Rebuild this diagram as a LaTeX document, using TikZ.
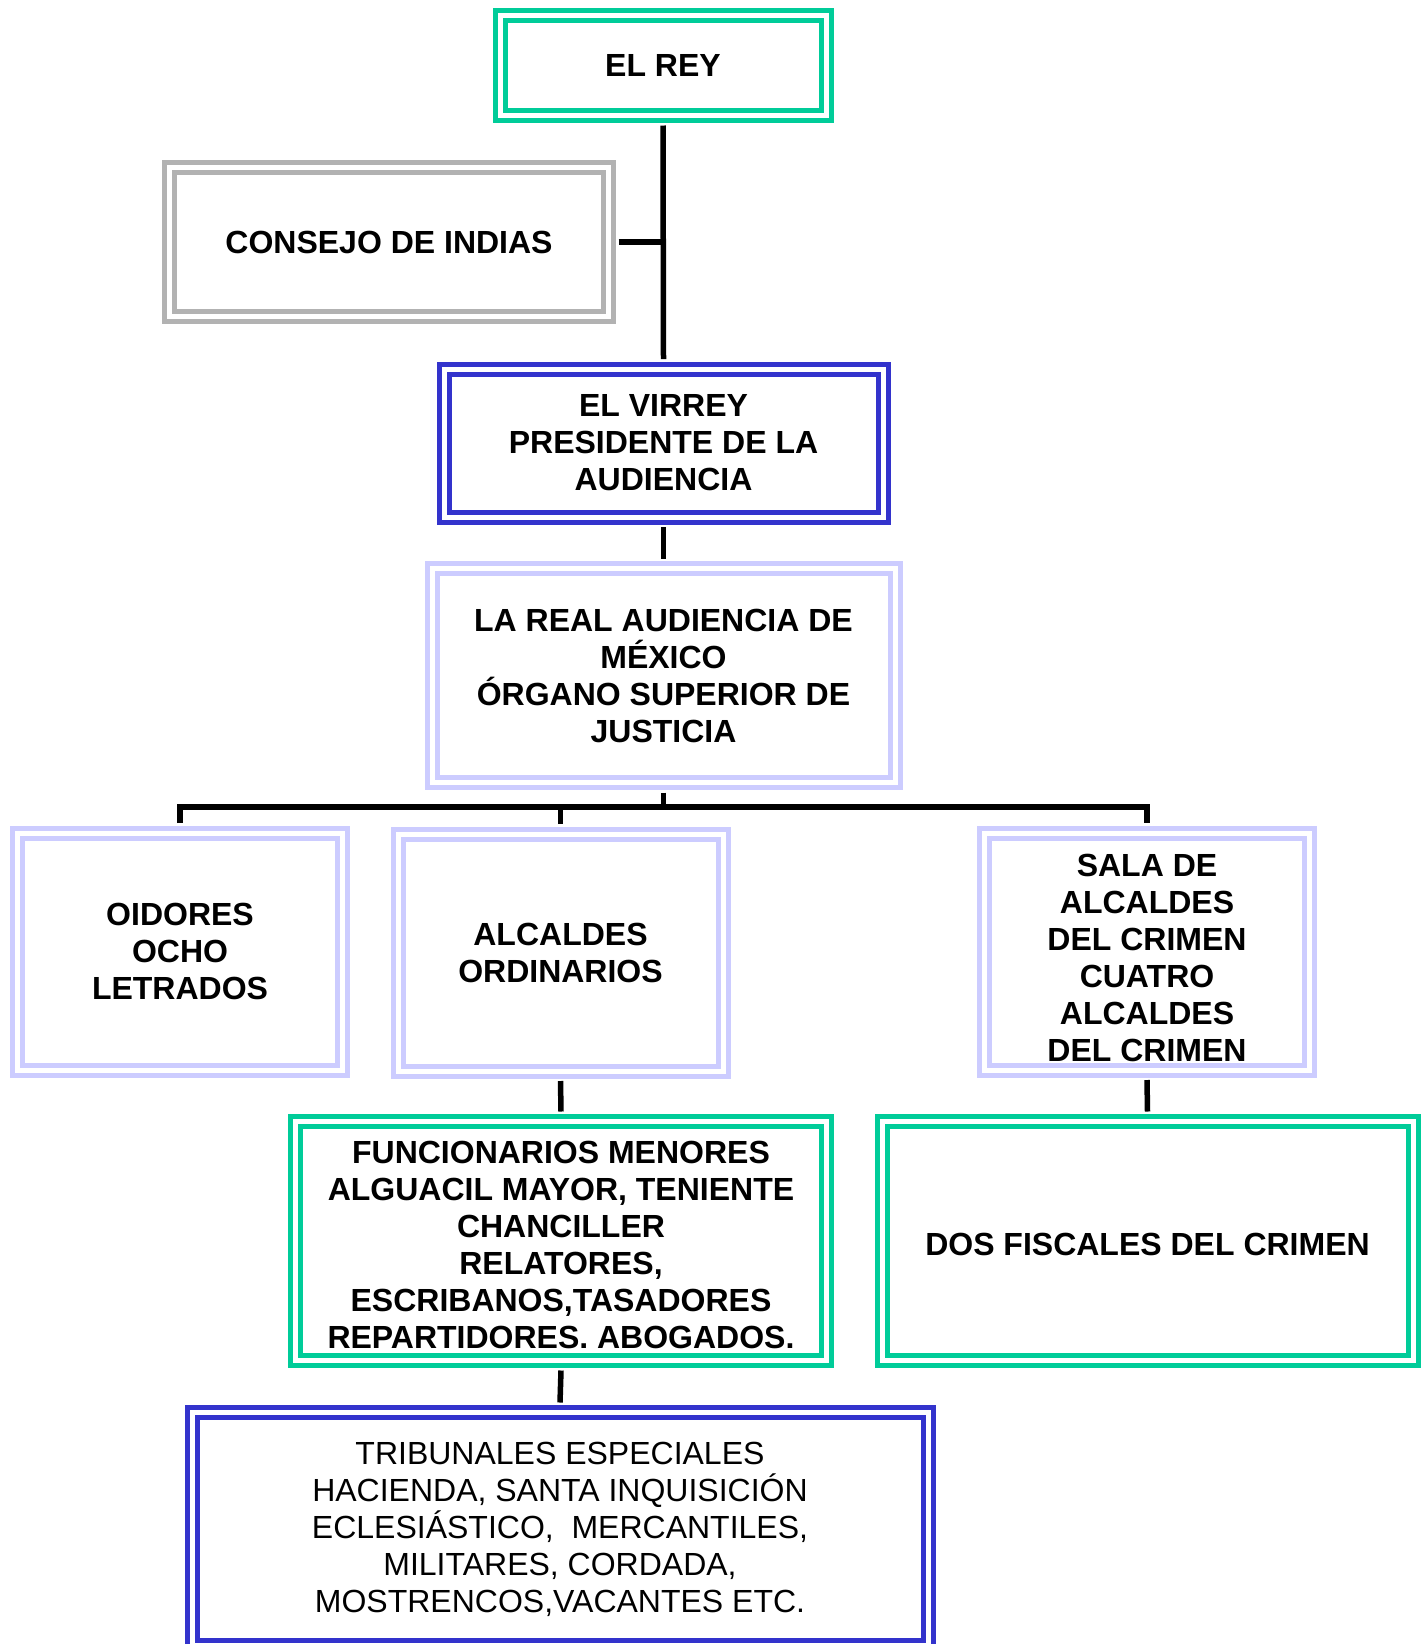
\documentclass[tikz,border=0pt]{standalone}
\usepackage{fontspec}
\setmainfont{Liberation Sans}
\usepackage{tikz}
\usepackage{xcolor}
\definecolor{boxgreen}{RGB}{0,204,153}
\definecolor{boxblue}{RGB}{51,51,204}
\definecolor{boxlilac}{RGB}{204,204,255}
\definecolor{boxgrey}{RGB}{178,178,178}

\begin{document}
\begin{tikzpicture}[x=1pt,y=-1pt]
\useasboundingbox (0,0) rectangle (1426,1644);
\clip (0,0) rectangle (1426,1644);

\begin{scope}[every node/.style={rectangle,line width=5pt,double=white,double distance=5pt,
              outer sep=10pt,inner sep=0pt,align=center,
              font=\fontsize{32}{37}\selectfont\bfseries}]
    \node[draw=boxgreen,minimum width=326pt,minimum height=100pt] (R) at (663,65.5) {EL REY};
    \node[draw=boxgrey,minimum width=439pt,minimum height=149pt] (C) at (389,242) {CONSEJO DE INDIAS};
    \node[draw=boxblue,minimum width=439pt,minimum height=148pt] (V) at (663.5,443)
        {EL VIRREY\\PRESIDENTE DE LA\\AUDIENCIA};
    \node[draw=boxlilac,minimum width=463pt,minimum height=214pt] (A) at (663.5,675.5)
        {LA REAL AUDIENCIA DE\\MÉXICO\\ÓRGANO SUPERIOR DE\\JUSTICIA};
    \node[draw=boxlilac,minimum width=325pt,minimum height=237pt] (O) at (180,951.5)
        {OIDORES\\OCHO\\LETRADOS};
    \node[draw=boxlilac,minimum width=325pt,minimum height=237pt] (AO) at (560.5,952.5)
        {ALCALDES\\ORDINARIOS};
    \node[draw=boxlilac,minimum width=325pt,minimum height=237pt] (SA) at (1147,951.5)
        {\rule{0pt}{35pt}SALA DE\\ALCALDES\\DEL CRIMEN\\CUATRO\\ALCALDES\\DEL CRIMEN};
    \node[draw=boxgreen,minimum width=531pt,minimum height=239pt] (FM) at (561,1241)
        {\rule{0pt}{31pt}FUNCIONARIOS MENORES\\ALGUACIL MAYOR, TENIENTE\\CHANCILLER\\RELATORES,\\ESCRIBANOS,TASADORES\\REPARTIDORES. ABOGADOS.};
    \node[draw=boxgreen,minimum width=531pt,minimum height=239pt] (DF) at (1147.5,1241)
        {\rule{0pt}{29pt}DOS FISCALES DEL CRIMEN};
    \node[draw=boxblue,minimum width=736pt,minimum height=233pt,
          font=\fontsize{32}{37}\selectfont] (TE) at (560,1529)
        {TRIBUNALES ESPECIALES\\HACIENDA, SANTA INQUISICIÓN\\ECLESIÁSTICO,\ \ MERCANTILES,\\MILITARES, CORDADA,\\MOSTRENCOS,VACANTES ETC.};
\end{scope}

\coordinate (bar) at (0,807);

\begin{scope}[every edge/.style={draw=black,line width=5.5pt}]
    \path (R.south) edge (V.north);
    \path (C.east) edge (C.east -| R.south);
    \path (V.south) edge (A.north);
    \path (A.south) edge (A.south |- bar);
    \path (AO.north) edge (AO.north |- bar);
    \path (AO.south) edge (FM.north);
    \path (SA.south) edge (DF.north);
    \path (FM.south) edge (TE.north);
    \draw[line width=5.5pt] (O.north) -- (O.north |- bar) -- (SA.north |- bar) -- (SA.north);
\end{scope}
\end{tikzpicture}
\end{document}
